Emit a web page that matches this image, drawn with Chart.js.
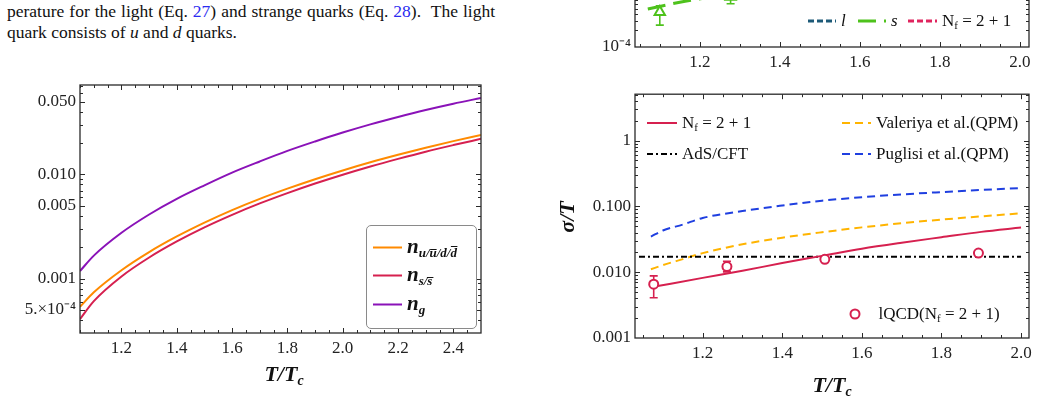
<!DOCTYPE html>
<html>
<head>
<meta charset="utf-8">
<script src="https://cdn.jsdelivr.net/npm/chart.js@4.4.1/dist/chart.umd.min.js"></script>
<style>
  body { margin: 0; width: 1039px; height: 402px; background: #fff; overflow: hidden; position: relative;
         font-family: "Liberation Serif", "DejaVu Serif", serif; color: #111; }
  canvas { position: absolute; }
  .para { position: absolute; left: 7px; font-size: 17.5px; line-height: 21px; white-space: nowrap; }
  .ref { color: #2b2bf0; }
  .ax { position: absolute; font-weight: bold; font-style: italic; font-size: 22px; white-space: nowrap;
        transform: translate(-50%, -50%); }
  .ax sub { font-size: 14px; vertical-align: -4px; }
  .leg { position: absolute; white-space: nowrap; transform: translateY(-50%); display: flex; align-items: center; font-size: 17px; }
  .leg svg { margin-right: 5px; }
  .mth { font-weight: bold; font-style: italic; font-size: 21px; }
  .mth sub { font-size: 13px; vertical-align: -4px; }
  .nf { font-size: 11px; vertical-align: -3px; }
  .box { position: absolute; left: 366px; top: 225px; width: 109px; height: 102px; border: 1px solid #8a8a8a; border-radius: 5px; }
</style>
</head>
<body>
<div class="para" style="top:1px; width:488px; white-space:normal; text-align:justify; text-align-last:justify;">perature for the light (Eq. <span class="ref">27</span>) and strange quarks (Eq. <span class="ref">28</span>).&nbsp; The light</div>
<div class="para" style="top:22px;">quark consists of <i>u</i> and <i>d</i> quarks.</div>

<canvas id="chart-top" width="519" height="120" style="left:520px; top:-40px;"></canvas>
<canvas id="chart-n" width="500" height="332" style="left:0px; top:70px;"></canvas>
<canvas id="chart-sigma" width="519" height="322" style="left:520px; top:80px;"></canvas>
<div class="box"></div>

<div class="ax" style="left:284px; top:375px;">T/T<sub>c</sub></div>
<div class="ax" style="left:832px; top:386px;">T/T<sub>c</sub></div>
<div class="ax" style="left:567px; top:217px; transform: translate(-50%, -50%) rotate(-90deg);">σ/T</div>
<div id="legends"></div>

<script>
// Left panel: number densities vs T/Tc
const tLeft = [1.05, 1.1, 1.2, 1.3, 1.4, 1.5, 1.6, 1.7, 1.8, 1.9, 2.0, 2.1, 2.2, 2.3, 2.4, 2.5];
const nLight = [5.35e-4, 7.38e-4, 1.202e-3, 1.795e-3, 2.535e-3, 3.443e-3, 4.539e-3, 5.82e-3, 7.29e-3, 8.99e-3, 0.01091, 0.01306, 0.01542, 0.01803, 0.02084, 0.02388];
const nStrange = [4.08e-4, 6.07e-4, 1.047e-3, 1.592e-3, 2.27e-3, 3.1e-3, 4.09e-3, 5.26e-3, 6.61e-3, 8.17e-3, 9.93e-3, 0.01191, 0.01409, 0.01652, 0.0191, 0.02193];
const nGluon = [0.00118, 0.00166, 0.00275, 0.00412, 0.00582, 0.00785, 0.0104, 0.0133, 0.0168, 0.0207, 0.0252, 0.0302, 0.0356, 0.0415, 0.0477, 0.0541];
const leftXTicks = [1.2, 1.4, 1.6, 1.8, 2.0, 2.2, 2.4];
const leftXLabels = ['1.2', '1.4', '1.6', '1.8', '2.0', '2.2', '2.4'];
const leftYTicks = [5e-4, 0.001, 0.005, 0.01, 0.05];
const leftYLabels = ['5.×10⁻⁴', '0.001', '0.005', '0.010', '0.050'];

// Right panel: sigma/T
const tNf = [1.08, 1.2, 1.3, 1.4, 1.5, 1.6, 1.7, 1.8, 1.9, 2.0];
const sigmaNf = [0.00604, 0.0082, 0.0105, 0.0138, 0.0177, 0.0228, 0.0281, 0.034, 0.041, 0.0476];
const tQPM = [1.07, 1.1, 1.15, 1.2, 1.3, 1.4, 1.5, 1.6, 1.7, 1.8, 1.9, 2.0];
const sigmaValeriya = [0.0111, 0.0128, 0.0158, 0.0195, 0.0265, 0.0335, 0.0405, 0.048, 0.0555, 0.063, 0.0705, 0.0785];
const sigmaPuglisi = [0.0348, 0.043, 0.053, 0.0666, 0.085, 0.103, 0.122, 0.138, 0.152, 0.165, 0.178, 0.19];
const tAdS = [1.04, 2.0];
const sigmaAdS = [0.0171, 0.0171];
const tLat = [1.077, 1.261, 1.507, 1.893];
const sigmaLat = [0.00657, 0.0122, 0.0157, 0.0195];
const sigmaLatLow = [0.0041, 0.0101, 0.0147, 0.0185];
const sigmaLatHigh = [0.0088, 0.0147, 0.0168, 0.0206];
const rightXTicks = [1.2, 1.4, 1.6, 1.8, 2.0];
const rightXLabels = ['1.2', '1.4', '1.6', '1.8', '2.0'];
const rightYTicks = [0.001, 0.01, 0.1, 1];
const rightYLabels = ['0.001', '0.010', '0.100', '1'];

// Top panel (only its bottom edge is on the page)
const tS = [1.07, 1.15, 1.25];
const valS = [4.9e-4, 6.5e-4, 8.6e-4];
const tSLat = [1.1, 1.277];
const valSLat = [4.3e-4, 8.2e-4];
const valSLatLow = [2.5e-4, 6.1e-4];
const valSLatHigh = [5.6e-4, 1.05e-3];
const topYTicks = [1e-4, 1e-3];
const topYLabels = ['10⁻⁴', '10⁻³'];

const pts = (xs, ys) => xs.map((x, i) => ({ x, y: ys[i] }));
const tickFont = { family: '"Liberation Serif", serif', size: 17 };

const logMinors = (majors) => {
  const out = [];
  for (let e = -5; e <= 1; e++) {
    for (let m = 1; m <= 9; m++) {
      const v = +(m * Math.pow(10, e)).toPrecision(3);
      if (!majors.some(t => Math.abs(t - v) / v < 1e-6)) out.push(v);
    }
  }
  return out;
};
const linMinors = (majors, lo, hi) => {
  const out = [];
  for (let v = lo; v <= hi + 1e-9; v += 0.05) {
    const r = Math.round(v * 100) / 100;
    if (!majors.some(t => Math.abs(t - r) < 1e-6)) out.push(r);
  }
  return out;
};

// inward ticks on all four sides plus the frame
const frameTicks = {
  id: 'frameTicks',
  afterDraw(c, args, o) {
    const { ctx, chartArea: a, scales: { x, y } } = c;
    ctx.save();
    ctx.strokeStyle = '#2a2a2a';
    ctx.lineWidth = 1;
    ctx.beginPath();
    const mark = (vals, len, isX) => vals.forEach(v => {
      if (isX) {
        const p = Math.round(x.getPixelForValue(v)) + 0.5;
        if (p < a.left || p > a.right) return;
        ctx.moveTo(p, a.bottom); ctx.lineTo(p, a.bottom - len);
        ctx.moveTo(p, a.top); ctx.lineTo(p, a.top + len);
      } else {
        const p = Math.round(y.getPixelForValue(v)) + 0.5;
        if (p < a.top || p > a.bottom) return;
        ctx.moveTo(a.left, p); ctx.lineTo(a.left + len, p);
        ctx.moveTo(a.right, p); ctx.lineTo(a.right - len, p);
      }
    });
    mark(o.xMajor, 5, true);
    mark(o.xMinor, 3, true);
    mark(o.yMajor, 5, false);
    mark(o.yMinor, 3, false);
    ctx.stroke();
    ctx.lineWidth = 1.3;
    ctx.strokeRect(a.left, a.top, a.right - a.left, a.bottom - a.top);
    ctx.restore();
  },
};

// vertical error bars with caps, drawn under the markers
const errorBars = {
  id: 'errorBars',
  beforeDatasetsDraw(c) {
    const { ctx, chartArea: a, scales: { x, y } } = c;
    ctx.save();
    ctx.beginPath();
    ctx.rect(a.left, a.top, a.right - a.left, a.bottom - a.top);
    ctx.clip();
    c.data.datasets.forEach(ds => {
      if (!ds.errLow) return;
      ctx.strokeStyle = ds.borderColor;
      ctx.lineWidth = 1.6;
      ctx.beginPath();
      ds.data.forEach((p, i) => {
        const px = x.getPixelForValue(p.x);
        const y1 = y.getPixelForValue(ds.errLow[i]);
        const y2 = y.getPixelForValue(ds.errHigh[i]);
        ctx.moveTo(px, y1); ctx.lineTo(px, y2);
        ctx.moveTo(px - 4, y1); ctx.lineTo(px + 4, y1);
        ctx.moveTo(px - 4, y2); ctx.lineTo(px + 4, y2);
      });
      ctx.stroke();
    });
    ctx.restore();
  },
};

const axisX = (min, max, ticks, labels, height) => ({
  type: 'linear', min, max,
  grid: { display: false, drawTicks: false },
  border: { display: false },
  ticks: { font: tickFont, color: '#222', padding: 5, maxRotation: 0,
    callback: (v) => { const i = ticks.findIndex(t => Math.abs(t - v) < 1e-9); return i < 0 ? '' : labels[i]; } },
  afterBuildTicks: (s) => { s.ticks = ticks.map(v => ({ value: v })); },
  afterFit: (s) => { s.height = height; },
});
const axisY = (min, max, ticks, labels, width) => ({
  type: 'logarithmic', min, max,
  grid: { display: false, drawTicks: false },
  border: { display: false },
  ticks: { font: tickFont, color: '#222', padding: 4,
    callback: (v) => { const i = ticks.findIndex(t => Math.abs(t - v) / t < 1e-6); return i < 0 ? '' : labels[i]; } },
  afterBuildTicks: (s) => { s.ticks = ticks.map(v => ({ value: v })); },
  afterFit: (s) => { s.width = width; },
});

const lineDs = (label, xs, ys, color, extra = {}) => ({
  label, data: pts(xs, ys), borderColor: color, backgroundColor: color,
  borderWidth: 2, pointRadius: 0, cubicInterpolationMode: 'monotone', ...extra,
});

const baseOpts = {
  responsive: false, animation: false, devicePixelRatio: 1,
  plugins: { legend: { display: false }, tooltip: { enabled: false } },
  events: [],
};

// left chart
const nChart = new Chart(document.getElementById('chart-n'), {
  type: 'line',
  data: { datasets: [
    lineDs('n_light', tLeft, nLight, '#ff8a00'),
    lineDs('n_strange', tLeft, nStrange, '#d6204f'),
    lineDs('n_gluon', tLeft, nGluon, '#8a12b8'),
  ] },
  options: { ...baseOpts,
    layout: { padding: { top: 15, right: 19, left: 0, bottom: 0 } },
    scales: { x: axisX(1.05, 2.5, leftXTicks, leftXLabels, 69), y: axisY(3.07e-4, 0.0721, leftYTicks, leftYLabels, 80) },
    plugins: { ...baseOpts.plugins,
      frameTicks: { xMajor: leftXTicks, xMinor: linMinors(leftXTicks, 1.05, 2.5), yMajor: leftYTicks, yMinor: logMinors(leftYTicks) } },
  },
  plugins: [frameTicks],
});

// right chart
const sigmaChart = new Chart(document.getElementById('chart-sigma'), {
  type: 'line',
  data: { datasets: [
    { label: 'lQCD', data: pts(tLat, sigmaLat), showLine: false, pointStyle: 'circle', pointRadius: 4.5,
      pointBorderWidth: 2, borderColor: '#d6204f', pointBackgroundColor: '#fff',
      errLow: sigmaLatLow, errHigh: sigmaLatHigh },
    lineDs('Nf', tNf, sigmaNf, '#d6204f'),
    lineDs('AdS', tAdS, sigmaAdS, '#000', { borderDash: [6, 3, 2, 3] }),
    lineDs('Valeriya', tQPM, sigmaValeriya, '#ffb400', { borderDash: [8, 5] }),
    lineDs('Puglisi', tQPM, sigmaPuglisi, '#1f3fe0', { borderDash: [8, 5] }),
  ] },
  options: { ...baseOpts,
    layout: { padding: { top: 14, right: 10, left: 0, bottom: 0 } },
    scales: { x: axisX(1.03, 2.02, rightXTicks, rightXLabels, 64), y: axisY(0.001, 5.07, rightYTicks, rightYLabels, 115) },
    plugins: { ...baseOpts.plugins,
      frameTicks: { xMajor: rightXTicks, xMinor: linMinors(rightXTicks, 1.05, 2.0), yMajor: rightYTicks, yMinor: logMinors(rightYTicks) } },
  },
  plugins: [frameTicks, errorBars],
});

// top chart (cut off by the page)
const topChart = new Chart(document.getElementById('chart-top'), {
  type: 'line',
  data: { datasets: [
    { label: 's lattice', data: pts(tSLat, valSLat), showLine: false, pointStyle: 'triangle', pointRadius: 6,
      pointBorderWidth: 2, borderColor: '#4ec21c', pointBackgroundColor: '#fff',
      errLow: valSLatLow, errHigh: valSLatHigh },
    lineDs('l', [], [], '#1d5a78', { borderWidth: 3, borderDash: [6, 3] }),
    lineDs('s', tS, valS, '#4ec21c', { borderWidth: 3, borderDash: [18, 8] }),
    lineDs('Nf', [], [], '#e0245e', { borderWidth: 3, borderDash: [6, 3] }),
  ] },
  options: { ...baseOpts,
    layout: { padding: { top: 10, right: 10, left: 0, bottom: 0 } },
    scales: { x: axisX(1.038, 2.023, rightXTicks, rightXLabels, 33), y: axisY(1e-4, 2.1e-3, topYTicks, topYLabels, 115) },
    plugins: { ...baseOpts.plugins,
      frameTicks: { xMajor: rightXTicks, xMinor: linMinors(rightXTicks, 1.05, 2.0), yMajor: topYTicks, yMinor: logMinors(topYTicks) } },
  },
  plugins: [frameTicks, errorBars],
});

// HTML legends built from the datasets
const sample = (ds, w) => {
  if (ds.showLine === false) {
    return `<svg width="${w}" height="12"><circle cx="${w / 2}" cy="6" r="4.5" fill="#fff" stroke="${ds.borderColor}" stroke-width="2"/></svg>`;
  }
  const dash = ds.borderDash ? `stroke-dasharray="${ds.borderDash.join(' ')}"` : '';
  return `<svg width="${w}" height="8"><line x1="0" y1="4" x2="${w}" y2="4" stroke="${ds.borderColor}" stroke-width="${ds.borderWidth}" ${dash}/></svg>`;
};
const legendItems = [
  { chart: nChart, i: 0, x: 373, y: 247, w: 29, html: '<span class="mth">n<sub>u/u̅/d/d̅</sub></span>' },
  { chart: nChart, i: 1, x: 373, y: 275, w: 29, html: '<span class="mth">n<sub>s/s̅</sub></span>' },
  { chart: nChart, i: 2, x: 373, y: 304, w: 29, html: '<span class="mth">n<sub>g</sub></span>' },
  { chart: sigmaChart, i: 1, x: 647, y: 123, w: 30, html: 'N<sub class="nf">f</sub>&nbsp;=&nbsp;2&nbsp;+&nbsp;1' },
  { chart: sigmaChart, i: 2, x: 647, y: 154, w: 30, html: 'AdS/CFT' },
  { chart: sigmaChart, i: 3, x: 842, y: 123, w: 29, html: 'Valeriya et al.(QPM)' },
  { chart: sigmaChart, i: 4, x: 842, y: 154, w: 29, html: 'Puglisi et al.(QPM)' },
  { chart: sigmaChart, i: 0, x: 845, y: 314, w: 20, html: '&nbsp;&nbsp;lQCD(N<sub class="nf">f</sub>&nbsp;=&nbsp;2&nbsp;+&nbsp;1)' },
  { chart: topChart, i: 1, x: 808, y: 21, w: 28, html: '<i>l</i>' },
  { chart: topChart, i: 2, x: 858, y: 21, w: 28, html: '<i>s</i>' },
  { chart: topChart, i: 3, x: 908, y: 21, w: 29, html: 'N<sub class="nf">f</sub>&nbsp;=&nbsp;2&nbsp;+&nbsp;1' },
];
const legendRoot = document.getElementById('legends');
legendItems.forEach(it => {
  const ds = it.chart.data.datasets[it.i];
  const div = document.createElement('div');
  div.className = 'leg';
  div.style.left = it.x + 'px';
  div.style.top = it.y + 'px';
  div.innerHTML = sample(ds, it.w) + '<span>' + it.html + '</span>';
  legendRoot.appendChild(div);
});
</script>
</body>
</html>
